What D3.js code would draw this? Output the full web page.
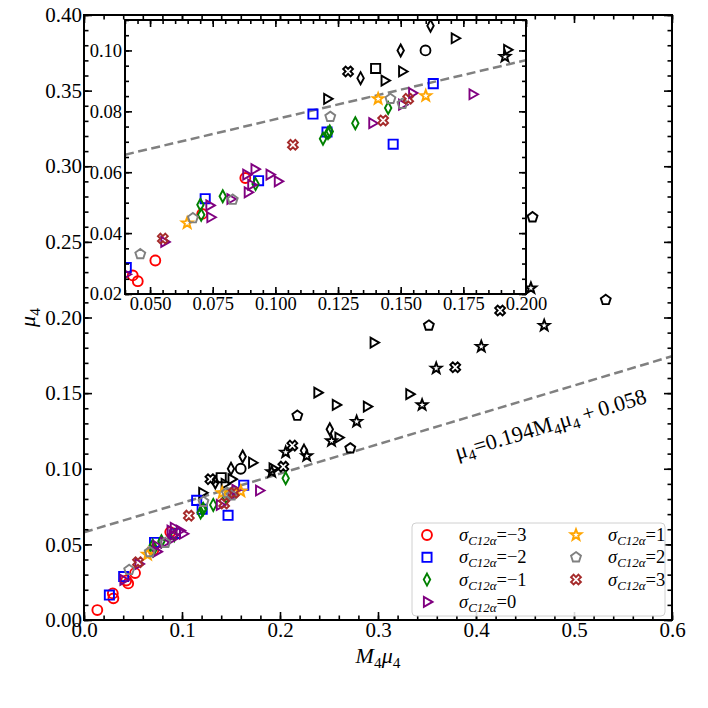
<!DOCTYPE html>
<html>
<head>
<meta charset="utf-8">
<script src="https://cdn.jsdelivr.net/npm/d3@7"></script>
<style>
  body { margin: 0; background: #fff; }
  text { font-family: "Liberation Serif", "Times New Roman", "DejaVu Serif", serif; }
</style>
</head>
<body>
<svg id="chart" width="708" height="708"></svg>
<script>
// ---- data ----
const xTicks = [0.0, 0.1, 0.2, 0.3, 0.4, 0.5, 0.6];
const yTicks = [0.00, 0.05, 0.10, 0.15, 0.20, 0.25, 0.30, 0.35, 0.40];
const insetXTicks = [0.050, 0.075, 0.100, 0.125, 0.150, 0.175, 0.200];
const insetYTicks = [0.02, 0.04, 0.06, 0.08, 0.10];

const fitSlope = 0.194;
const fitIntercept = 0.058;

const sigmaLabels = ['\u22123', '\u22122', '\u22121', '0', '1', '2', '3'];
const sigmaColors = ['#ff0000', '#0000ff', '#008000', '#800080', '#ffa500', '#808080', '#a52a2a'];
const sigmaShapes = ['circle', 'square', 'diamond', 'triangle', 'star', 'pentagon', 'cross'];

// sigma = -3
const xM3 = [0.0136, 0.0294, 0.0300, 0.0431, 0.0451, 0.0521, 0.0708, 0.0880];
const yM3 = [0.0066, 0.0176, 0.0143, 0.0261, 0.0242, 0.0310, 0.0463, 0.0581];
// sigma = -2
const xM2 = [0.0259, 0.0405, 0.0720, 0.0933, 0.1150, 0.1206, 0.1470, 0.1630];
const yM2 = [0.0165, 0.0287, 0.0513, 0.0572, 0.0791, 0.0732, 0.0692, 0.0891];
// sigma = -1
const xM1 = [0.0701, 0.0704, 0.0790, 0.0921, 0.1190, 0.1210, 0.1217, 0.1319, 0.1450, 0.2058];
const yM1 = [0.0493, 0.0460, 0.0521, 0.0561, 0.0710, 0.0729, 0.0734, 0.0761, 0.0811, 0.0937];
// sigma = 0
const xP0 = [0.0403, 0.0557, 0.0737, 0.0741, 0.0821, 0.0890, 0.0904, 0.0884, 0.0917, 0.0977, 0.1010, 0.1387, 0.1506, 0.1546, 0.1787];
const yP0 = [0.0265, 0.0371, 0.0491, 0.0452, 0.0512, 0.0534, 0.0559, 0.0592, 0.0610, 0.0592, 0.0570, 0.0761, 0.0822, 0.0860, 0.0856];
// sigma = 1
const xP1 = [0.0648, 0.1410, 0.1600];
const yP1 = [0.0433, 0.0841, 0.0851];
// sigma = 2
const xP2 = [0.0461, 0.0671, 0.0830, 0.1219, 0.1459, 0.1507];
const yP2 = [0.0331, 0.0449, 0.0510, 0.0782, 0.0841, 0.0825];
// sigma = 3
const xP3 = [0.0551, 0.1070, 0.1430, 0.1530];
const yP3 = [0.0382, 0.0690, 0.0770, 0.0841];

// black points (no legend entry), one pair of arrays per marker
const xBlkCircle = [0.1599];
const yBlkCircle = [0.1000];
const xBlkSquare = [0.1400];
const yBlkSquare = [0.0941];
const xBlkDiamond = [0.1340, 0.1500, 0.1619, 0.2245, 0.2508];
const yBlkDiamond = [0.0909, 0.1000, 0.1081, 0.1120, 0.1261];
const xBlkTriangle = [0.1207, 0.1436, 0.1506, 0.1716, 0.1925, 0.2382, 0.2570, 0.2597, 0.2887, 0.2956, 0.3320];
const yBlkTriangle = [0.0841, 0.0901, 0.0931, 0.1040, 0.1002, 0.1503, 0.1422, 0.1206, 0.1411, 0.1834, 0.1493];
const xBlkStar = [0.1916, 0.2058, 0.2273, 0.2526, 0.2782, 0.3450, 0.3594, 0.4054, 0.4560, 0.4696];
const yBlkStar = [0.0980, 0.1109, 0.1085, 0.1184, 0.1312, 0.1422, 0.1664, 0.1808, 0.2194, 0.1947];
const xBlkPentagon = [0.2177, 0.2717, 0.3519, 0.4577, 0.5324];
const yBlkPentagon = [0.1351, 0.1135, 0.1947, 0.2663, 0.2116];
const xBlkCross = [0.1290, 0.2034, 0.2126, 0.3788, 0.4246];
const yBlkCross = [0.0931, 0.1014, 0.1153, 0.1671, 0.2046];

const zip = (xs, ys) => xs.map((x, i) => ({ x: x, y: ys[i] }));

const colored = [
  zip(xM3, yM3), zip(xM2, yM2), zip(xM1, yM1), zip(xP0, yP0),
  zip(xP1, yP1), zip(xP2, yP2), zip(xP3, yP3)
].map((pts, i) => ({ pts: pts, color: sigmaColors[i], shape: sigmaShapes[i], label: sigmaLabels[i] }));

const black = [
  ['circle', zip(xBlkCircle, yBlkCircle)],
  ['square', zip(xBlkSquare, yBlkSquare)],
  ['diamond', zip(xBlkDiamond, yBlkDiamond)],
  ['triangle', zip(xBlkTriangle, yBlkTriangle)],
  ['star', zip(xBlkStar, yBlkStar)],
  ['pentagon', zip(xBlkPentagon, yBlkPentagon)],
  ['cross', zip(xBlkCross, yBlkCross)]
].map(([shape, pts]) => ({ pts: pts, color: '#000', shape: shape }));

// black drawn first, coloured on top
const allSeries = black.concat(colored);

// ---- marker paths ----
function shapePath(shape, r) {
  const p = d3.path();
  const poly = pts => {
    pts.forEach(([x, y], i) => (i ? p.lineTo(x, y) : p.moveTo(x, y)));
    p.closePath();
  };
  const ring = (n, rad, start) => d3.range(n).map(k => {
    const a = start + k * 2 * Math.PI / n;
    return [rad(k) * Math.cos(a), rad(k) * Math.sin(a)];
  });
  switch (shape) {
    case 'circle':
      p.arc(0, 0, r * 0.95, 0, 2 * Math.PI);
      p.closePath();
      break;
    case 'square': {
      const s = r * 0.88;
      poly([[-s, -s], [s, -s], [s, s], [-s, s]]);
      break;
    }
    case 'diamond':
      poly([[0, -r * 1.15], [r * 0.62, 0], [0, r * 1.15], [-r * 0.62, 0]]);
      break;
    case 'triangle':
      poly([[r * 1.05, 0], [-r * 0.6, -r * 0.95], [-r * 0.6, r * 0.95]]);
      break;
    case 'star':
      poly(ring(10, k => (k % 2 ? r * 0.45 : r * 1.1), -Math.PI / 2));
      break;
    case 'pentagon':
      poly(ring(5, () => r, -Math.PI / 2));
      break;
    case 'cross': {
      const a = r * 1.0, w = r * 0.34;
      const pts = [[-w, -a], [w, -a], [w, -w], [a, -w], [a, w], [w, w], [w, a], [-w, a], [-w, w], [-a, w], [-a, -w], [-w, -w]];
      const c = Math.SQRT1_2;
      poly(pts.map(([x, y]) => [c * (x - y), c * (x + y)]));
      break;
    }
  }
  return p.toString();
}

// ---- layout ----
const svg = d3.select('#chart');
const main = { left: 84, right: 672, top: 15, bottom: 620 };
const ins = { left: 125, right: 526, top: 20, bottom: 294 };

const x = d3.scaleLinear().domain([0, 0.6]).range([main.left, main.right]);
const y = d3.scaleLinear().domain([0, 0.4]).range([main.bottom, main.top]);
const xi = d3.scaleLinear().domain([0.04, 0.2]).range([ins.left, ins.right]);
const yi = d3.scaleLinear().domain([0.02, 0.11]).range([ins.bottom, ins.top]);

const defs = svg.append('defs');
defs.append('clipPath').attr('id', 'clipMain').append('rect')
  .attr('x', main.left).attr('y', main.top)
  .attr('width', main.right - main.left).attr('height', main.bottom - main.top);
defs.append('clipPath').attr('id', 'clipInset').append('rect')
  .attr('x', ins.left).attr('y', ins.top)
  .attr('width', ins.right - ins.left).attr('height', ins.bottom - ins.top);

// draws ticks on all four sides, pointing inwards
function drawFrame(g, sx, sy, box, opt) {
  const fmtX = d3.format(opt.fx), fmtY = d3.format(opt.fy);
  const major = opt.major, minor = opt.minor;
  const style = sel => {
    sel.attr('font-family', null);
    sel.select('.domain').remove();
    sel.selectAll('line').attr('stroke', '#000').attr('stroke-width', 1.6);
    sel.selectAll('text').attr('font-size', opt.fs).attr('fill', '#000');
  };
  const minX = d3.range(sx.domain()[0], sx.domain()[1] + 1e-9, opt.mx);
  const minY = d3.range(sy.domain()[0], sy.domain()[1] + 1e-9, opt.my);

  g.append('g').attr('transform', `translate(0,${box.bottom})`)
    .call(d3.axisBottom(sx).tickValues(opt.xt).tickFormat(fmtX).tickSizeInner(-major).tickSizeOuter(0).tickPadding(opt.pad))
    .call(style);
  g.append('g').attr('transform', `translate(0,${box.bottom})`)
    .call(d3.axisBottom(sx).tickValues(minX).tickFormat('').tickSizeInner(-minor).tickSizeOuter(0)).call(style);
  g.append('g').attr('transform', `translate(0,${box.top})`)
    .call(d3.axisTop(sx).tickValues(opt.xt).tickFormat('').tickSizeInner(-major).tickSizeOuter(0)).call(style);
  g.append('g').attr('transform', `translate(0,${box.top})`)
    .call(d3.axisTop(sx).tickValues(minX).tickFormat('').tickSizeInner(-minor).tickSizeOuter(0)).call(style);

  g.append('g').attr('transform', `translate(${box.left},0)`)
    .call(d3.axisLeft(sy).tickValues(opt.yt).tickFormat(fmtY).tickSizeInner(-major).tickSizeOuter(0).tickPadding(opt.pad))
    .call(style);
  g.append('g').attr('transform', `translate(${box.left},0)`)
    .call(d3.axisLeft(sy).tickValues(minY).tickFormat('').tickSizeInner(-minor).tickSizeOuter(0)).call(style);
  g.append('g').attr('transform', `translate(${box.right},0)`)
    .call(d3.axisRight(sy).tickValues(opt.yt).tickFormat('').tickSizeInner(-major).tickSizeOuter(0)).call(style);
  g.append('g').attr('transform', `translate(${box.right},0)`)
    .call(d3.axisRight(sy).tickValues(minY).tickFormat('').tickSizeInner(-minor).tickSizeOuter(0)).call(style);

  g.append('rect')
    .attr('x', box.left).attr('y', box.top)
    .attr('width', box.right - box.left).attr('height', box.bottom - box.top)
    .attr('fill', 'none').attr('stroke', '#000').attr('stroke-width', 2);
}

function drawFit(g, sx, sy, clip) {
  const d0 = sx.domain();
  g.append('line')
    .attr('clip-path', `url(#${clip})`)
    .attr('x1', sx(d0[0])).attr('y1', sy(fitSlope * d0[0] + fitIntercept))
    .attr('x2', sx(d0[1])).attr('y2', sy(fitSlope * d0[1] + fitIntercept))
    .attr('stroke', '#808080').attr('stroke-width', 2.5).attr('stroke-dasharray', '9,4.5');
}

function drawPoints(g, sx, sy, filter, clip) {
  const layer = g.append('g').attr('clip-path', `url(#${clip})`);
  allSeries.forEach(s => {
    layer.selectAll(null)
      .data(s.pts.filter(filter))
      .join('path')
      .attr('transform', d => `translate(${sx(d.x)},${sy(d.y)})`)
      .attr('d', shapePath(s.shape, 5.2))
      .attr('fill', 'none')
      .attr('stroke', s.color)
      .attr('stroke-width', 1.9)
      .attr('stroke-linejoin', 'miter');
  });
}

// ---- main axes ----
const gMain = svg.append('g');
drawFit(gMain, x, y, 'clipMain');

// ---- inset ----
const gIns = svg.append('g');
gIns.append('rect')
  .attr('x', ins.left).attr('y', ins.top)
  .attr('width', ins.right - ins.left).attr('height', ins.bottom - ins.top)
  .attr('fill', '#fff');
drawFit(gIns, xi, yi, 'clipInset');
drawPoints(gIns, xi, yi, () => true, 'clipInset');
drawFrame(gIns, xi, yi, ins, {
  xt: insetXTicks, yt: insetYTicks, fx: '.3f', fy: '.2f',
  mx: 0.005, my: 0.005, major: 7, minor: 4, fs: 18.5, pad: 3
});

// main points that are not hidden by the inset
const outsideInset = d => {
  const px = x(d.x), py = y(d.y);
  return !(px > ins.left && px < ins.right && py > ins.top && py < ins.bottom);
};
drawPoints(gMain, x, y, outsideInset, 'clipMain');
drawFrame(gMain, x, y, main, {
  xt: xTicks, yt: yTicks, fx: '.1f', fy: '.2f',
  mx: 0.02, my: 0.01, major: 8, minor: 4.5, fs: 21, pad: 2
});

// ---- axis labels ----
function mathLabel(sel, parts, fs) {
  parts.forEach(pt => {
    const t = sel.append('tspan').text(pt.t);
    if (pt.i) t.attr('font-style', 'italic');
    if (pt.sub) t.attr('font-size', fs * 0.7).attr('dy', fs * 0.22);
    else if (pt.back) t.attr('dy', -fs * 0.22);
  });
}

const xLab = svg.append('text')
  .attr('x', (main.left + main.right) / 2).attr('y', 663)
  .attr('text-anchor', 'middle').attr('font-size', 22);
mathLabel(xLab, [
  { t: 'M', i: true }, { t: '4', sub: true }, { t: '\u03bc', i: true, back: true }, { t: '4', sub: true }
], 22);

const yLab = svg.append('text')
  .attr('transform', `translate(35,${(main.top + main.bottom) / 2}) rotate(-90)`)
  .attr('text-anchor', 'middle').attr('font-size', 22);
mathLabel(yLab, [{ t: '\u03bc', i: true }, { t: '4', sub: true }], 22);

// ---- fit label, rotated along the line ----
const angle = Math.atan2(y(fitSlope * 0.6) - y(0), x(0.6) - x(0)) * 180 / Math.PI;
const fitLab = svg.append('text')
  .attr('transform', `translate(${x(0.381)},${y(0.106)}) rotate(${angle})`)
  .attr('font-size', 22);
mathLabel(fitLab, [
  { t: '\u03bc' }, { t: '4', sub: true }, { t: '=0.194M', back: true },
  { t: '4', sub: true }, { t: '\u03bc', back: true }, { t: '4', sub: true },
  { t: '\u2009+\u20090.058', back: true }
], 22);

// ---- legend ----
const lg = svg.append('g');
lg.append('rect')
  .attr('x', 412).attr('y', 523).attr('width', 253).attr('height', 93)
  .attr('rx', 4).attr('fill', '#fff').attr('fill-opacity', 0.85)
  .attr('stroke', '#d0d0d0').attr('stroke-width', 1);
colored.forEach((s, i) => {
  const col = i < 4 ? 0 : 1, row = i < 4 ? i : i - 4;
  const mx = col === 0 ? 427 : 576;
  const ty = 535 + row * 22.3;
  lg.append('path')
    .attr('transform', `translate(${mx},${ty})`)
    .attr('d', shapePath(s.shape, 5.2))
    .attr('fill', 'none').attr('stroke', s.color).attr('stroke-width', 1.9);
  const t = lg.append('text')
    .attr('x', mx + 32).attr('y', ty + 6).attr('font-size', 18.5);
  mathLabel(t, [
    { t: '\u03c3', i: true }, { t: 'C12\u03b1', i: true, sub: true },
    { t: '=' + s.label, back: true }
  ], 18.5);
});
</script>
</body>
</html>
